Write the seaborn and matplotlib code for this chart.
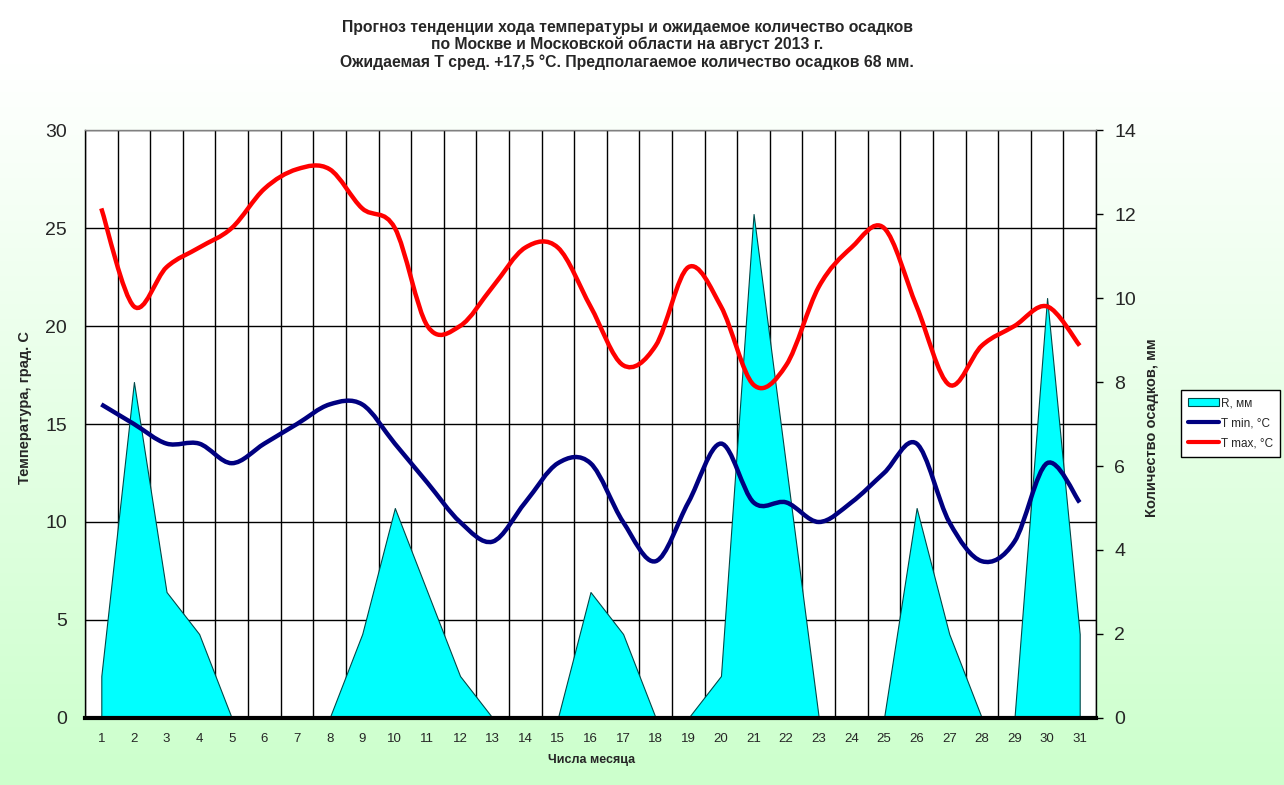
import numpy as np
import matplotlib
matplotlib.use("Agg")
import matplotlib.pyplot as plt
from matplotlib.path import Path
from matplotlib.patches import PathPatch, Patch
from matplotlib.lines import Line2D
from matplotlib.ticker import FixedLocator
import seaborn as sns

# data
days = list(range(1, 32))
t_max = [26, 21, 23, 24, 25, 27, 28, 28, 26, 25, 20, 20, 22, 24, 24, 21,
         18, 19, 23, 21, 17, 18, 22, 24, 25, 21, 17, 19, 20, 21, 19]
t_min = [16, 15, 14, 14, 13, 14, 15, 16, 16, 14, 12, 10, 9, 11, 13, 13,
         10, 8, 11, 14, 11, 11, 10, 11, 12.5, 14, 10, 8, 9, 13, 11]
rain_mm = [1, 8, 3, 2, 0, 0, 0, 0, 2, 5, 3, 1, 0, 0, 0, 3,
           2, 0, 0, 1, 12, 6, 0, 0, 0, 5, 2, 0, 0, 10, 2]

temp_ticks = [0, 5, 10, 15, 20, 25, 30]
rain_ticks = [0, 2, 4, 6, 8, 10, 12, 14]

title_lines = [
    "Прогноз тенденции хода температуры и ожидаемое количество осадков",
    "по Москве и Московской области на август 2013 г.",
    "Ожидаемая Т сред. +17,5 °С. Предполагаемое количество осадков 68 мм.",
]
legend_labels = ["R, мм", "T min, °C", "T max, °C"]

RAIN_COLOR = "#00FFFF"
TMIN_COLOR = "#000080"
TMAX_COLOR = "#FF0000"

sns.set_style("white")
plt.rcParams["font.family"] = ["Liberation Sans", "DejaVu Sans"]

# temperature axis 0..30 shares the frame with precipitation axis 0..14
rain_scale = temp_ticks[-1] / rain_ticks[-1]


def smooth_path(x, y):
    """Excel-like smoothed line: cubic Bezier through every point."""
    pts = np.column_stack([x, y]).astype(float)
    ext = np.vstack([pts[0], pts, pts[-1]])
    verts = [pts[0]]
    codes = [Path.MOVETO]
    for i in range(len(pts) - 1):
        p0, p1, p2, p3 = ext[i], ext[i + 1], ext[i + 2], ext[i + 3]
        verts += [p1 + (p2 - p0) / 6, p2 - (p3 - p1) / 6, p2]
        codes += [Path.CURVE4] * 3
    return Path(verts, codes)


fig = plt.figure(figsize=(12.84, 7.85), dpi=100)

# soft white-to-green background
bg = fig.add_axes([0, 0, 1, 1])
g = np.clip((np.linspace(0, 1, 256) - 0.08) / 0.92, 0, 1)[:, None, None]
top = np.array([1.0, 1.0, 1.0])
bottom = np.array([0.80, 1.0, 0.80])
bg.imshow(top + (bottom - top) * g, aspect="auto", extent=[0, 1, 0, 1])
bg.axis("off")

ax = fig.add_axes([85 / 1284, 67 / 785, 1011 / 1284, 588 / 785])
ax.set_zorder(2)
ax.set_facecolor("white")

# precipitation area (drawn in temperature units, read on right axis)
ax.fill_between(days, np.array(rain_mm) * rain_scale, 0,
                facecolor=RAIN_COLOR, edgecolor="#004848", linewidth=0.8,
                zorder=1)

for vals, col in [(t_min, TMIN_COLOR), (t_max, TMAX_COLOR)]:
    ax.add_patch(PathPatch(smooth_path(days, vals), facecolor="none",
                           edgecolor=col, linewidth=3.2, capstyle="butt",
                           zorder=3))

ax.set_xlim(0.5, 31.5)
ax.set_ylim(temp_ticks[0], temp_ticks[-1])
ax.yaxis.set_major_locator(FixedLocator(temp_ticks))
ax.xaxis.set_major_locator(FixedLocator(days))
ax.xaxis.set_minor_locator(FixedLocator(np.arange(0.5, 32, 1)))
ax.set_xticklabels([str(d) for d in days])

ax.set_axisbelow(True)
ax.grid(axis="y", which="major", color="black", linewidth=1)
ax.grid(axis="x", which="minor", color="black", linewidth=1)
ax.grid(axis="x", which="major", visible=False)

ax.tick_params(axis="x", which="major", length=0, labelsize=9.5, pad=11)
ax.tick_params(axis="x", which="minor", length=6, width=3,
               direction="inout", color="black")
ax.tick_params(axis="y", which="major", length=4, width=1, direction="out",
               labelsize=14, pad=9, color="black")

ax.spines["bottom"].set_linewidth(3)
ax.spines["bottom"].set_color("black")
ax.spines["bottom"].set_zorder(4)
ax.spines["left"].set_color("black")
ax.spines["left"].set_linewidth(1)
ax.spines["top"].set_color("#808080")
ax.spines["top"].set_linewidth(1)
ax.spines["right"].set_visible(False)

sec = ax.secondary_yaxis("right", functions=(lambda t: t / rain_scale,
                                             lambda r: r * rain_scale))
sec.yaxis.set_major_locator(FixedLocator(rain_ticks))
sec.tick_params(axis="y", length=5, width=1, direction="out",
                labelsize=14, pad=8, color="black")
sec.spines["right"].set_color("black")
sec.spines["right"].set_linewidth(1)

fig.text(627 / 1284, 1 - 20 / 785, "\n".join(title_lines), ha="center",
         va="top", fontsize=11.3, fontweight="bold", linespacing=1.16)
fig.text(25 / 1284, 1 - 407 / 785, "Температура, град. С", rotation=90,
         ha="center", va="center", fontsize=10.5, fontweight="bold")
fig.text(1152 / 1284, 1 - 428 / 785, "Количество осадков, мм", rotation=90,
         ha="center", va="center", fontsize=10.5, fontweight="bold")
fig.text(592 / 1284, 1 - 760 / 785, "Числа месяца", ha="center",
         va="center", fontsize=9, fontweight="bold")

handles = [
    Patch(facecolor=RAIN_COLOR, edgecolor="#004848", linewidth=0.8),
    Line2D([], [], color=TMIN_COLOR, linewidth=3),
    Line2D([], [], color=TMAX_COLOR, linewidth=3),
]
leg = fig.legend(handles, legend_labels, loc="upper left",
                 bbox_to_anchor=(1181 / 1284, 1 - 390 / 785),
                 fontsize=8.5, frameon=True, fancybox=False, framealpha=1,
                 edgecolor="black", borderaxespad=0, handlelength=2.6,
                 handletextpad=0.2, labelspacing=0.7, borderpad=0.6)
leg.get_frame().set_linewidth(1)

fig.savefig("out.png", dpi=100)
